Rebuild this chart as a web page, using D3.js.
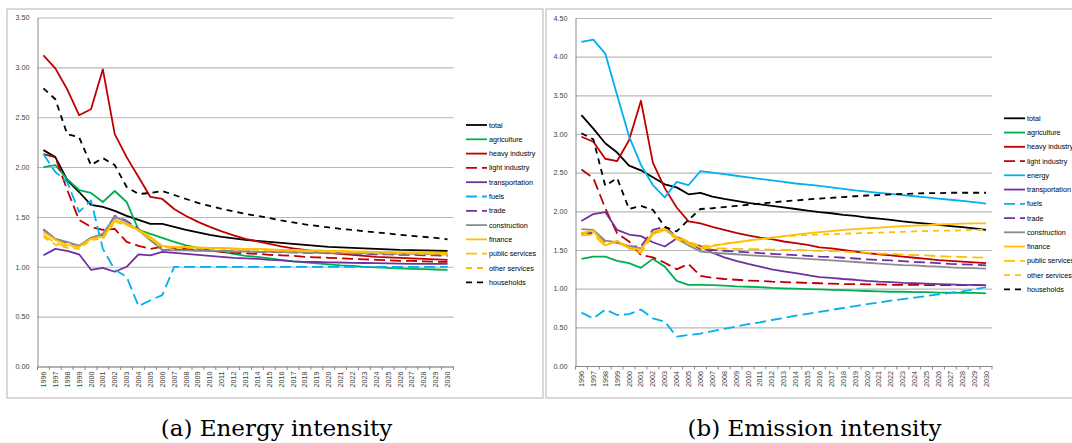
<!DOCTYPE html>
<html>
<head>
<meta charset="utf-8">
<script src="https://cdn.jsdelivr.net/npm/d3@7"></script>
<style>
  html, body { margin: 0; padding: 0; background: #fff; }
  svg { display: block; }
</style>
</head>
<body>
<svg id="chart" width="1072" height="443"></svg>
<script>
// Year categories shared by both panels
const years = ["1996","1997","1998","1999","2000","2001","2002","2003","2004","2005","2006",
  "2007","2008","2009","2010","2011","2012","2013","2014","2015","2016","2017",
  "2018","2019","2020","2021","2022","2023","2024","2025","2026","2027","2028","2029","2030"];

// Y tick labels
const energyTicks = ["0.00","0.50","1.00","1.50","2.00","2.50","3.00","3.50"];
const emissionTicks = ["0.00","0.50","1.00","1.50","2.00","2.50","3.00","3.50","4.00","4.50"];

// (a) Energy intensity by sector
const eTotal = [2.17,2.10,1.87,1.75,1.62,1.60,1.56,1.51,1.47,1.43,1.43, 1.40,1.37,1.345,1.32,1.30,1.285,1.27,1.26,1.25,1.24,1.23, 1.22,1.21,1.20,1.195,1.19,1.185,1.18,1.175,1.17,1.168,1.165,1.162,1.16];
const eAgriculture = [2.00,2.02,1.88,1.77,1.74,1.65,1.76,1.65,1.37,1.33,1.29, 1.25,1.215,1.19,1.17,1.15,1.13,1.11,1.10,1.085,1.07,1.055, 1.045,1.035,1.025,1.015,1.01,1.00,0.995,0.99,0.985,0.98,0.977,0.973,0.97];
const eHeavy = [3.12,2.99,2.78,2.52,2.58,2.98,2.33,2.10,1.90,1.70,1.68, 1.58,1.51,1.45,1.40,1.355,1.315,1.28,1.255,1.23,1.205,1.185, 1.17,1.155,1.14,1.13,1.12,1.11,1.10,1.095,1.09,1.085,1.08,1.075,1.07];
const eLight = [2.13,2.10,1.77,1.47,1.40,1.37,1.38,1.25,1.21,1.18,1.20, 1.19,1.18,1.17,1.16,1.15,1.14,1.135,1.13,1.12,1.115,1.11, 1.10,1.095,1.09,1.085,1.08,1.075,1.07,1.065,1.06,1.06,1.055,1.05,1.05];
const eTransport = [1.115,1.18,1.16,1.125,0.97,0.99,0.95,1.00,1.125,1.115,1.15, 1.14,1.13,1.12,1.11,1.10,1.09,1.085,1.08,1.07,1.065,1.055, 1.05,1.048,1.045,1.043,1.04,1.038,1.036,1.034,1.032,1.03,1.03,1.03,1.03];
const eFuels = [2.13,1.95,1.85,1.55,1.665,1.18,0.97,0.90,0.605,0.665,0.715, 1.00,1.00,1.00,1.00,1.00,1.00,1.00,1.00,1.00,1.00,1.00, 1.00,1.00,1.00,1.00,1.00,1.00,1.00,1.00,1.00,1.00,1.00,1.00,1.00];
const eTrade = [1.37,1.28,1.24,1.21,1.29,1.32,1.51,1.46,1.38,1.27,1.17, 1.17,1.17,1.165,1.16,1.16,1.155,1.155,1.15,1.15,1.145,1.145, 1.14,1.14,1.135,1.135,1.13,1.13,1.125,1.125,1.12,1.12,1.115,1.115,1.11];
const eConstruction = [1.38,1.28,1.25,1.21,1.29,1.33,1.50,1.45,1.365,1.265,1.17, 1.165,1.165,1.16,1.16,1.16,1.155,1.155,1.15,1.15,1.15,1.145, 1.145,1.14,1.14,1.14,1.135,1.135,1.135,1.13,1.13,1.13,1.13,1.125,1.125];
const eFinance = [1.35,1.27,1.22,1.20,1.28,1.30,1.47,1.43,1.37,1.30,1.21, 1.20,1.20,1.195,1.19,1.19,1.185,1.18,1.18,1.175,1.17,1.17, 1.165,1.165,1.16,1.16,1.155,1.155,1.15,1.15,1.145,1.145,1.145,1.14,1.14];
const ePublic = [1.32,1.24,1.20,1.20,1.28,1.29,1.46,1.42,1.37,1.28,1.20, 1.20,1.195,1.19,1.19,1.185,1.18,1.18,1.175,1.17,1.17,1.165, 1.16,1.16,1.155,1.155,1.15,1.15,1.145,1.145,1.14,1.14,1.135,1.135,1.13];
const eOther = [1.30,1.22,1.19,1.18,1.27,1.28,1.45,1.42,1.36,1.28,1.20, 1.19,1.19,1.185,1.18,1.18,1.175,1.17,1.17,1.165,1.16,1.16, 1.155,1.155,1.15,1.15,1.145,1.145,1.14,1.14,1.135,1.135,1.13,1.13,1.125];
const eHouseholds = [2.79,2.68,2.33,2.30,2.02,2.09,2.02,1.80,1.73,1.74,1.76, 1.72,1.68,1.64,1.61,1.58,1.555,1.53,1.51,1.49,1.465,1.445, 1.425,1.41,1.395,1.38,1.37,1.355,1.345,1.335,1.32,1.31,1.30,1.29,1.275];

// (b) Emission intensity by sector
const mTotal = [3.245,3.07,2.88,2.76,2.59,2.53,2.44,2.35,2.31,2.22,2.24, 2.19,2.16,2.135,2.11,2.09,2.07,2.05,2.03,2.01,1.99,1.975, 1.955,1.94,1.92,1.905,1.89,1.87,1.855,1.84,1.825,1.81,1.795,1.78,1.76];
const mAgriculture = [1.385,1.415,1.415,1.36,1.33,1.27,1.385,1.285,1.10,1.05,1.05, 1.045,1.04,1.03,1.025,1.02,1.01,1.005,1.00,0.995,0.99,0.985, 0.98,0.975,0.97,0.965,0.96,0.96,0.955,0.955,0.95,0.95,0.945,0.945,0.94];
const mHeavy = [2.965,2.90,2.68,2.65,2.92,3.43,2.63,2.30,2.05,1.87,1.845, 1.80,1.76,1.72,1.69,1.66,1.64,1.61,1.59,1.565,1.535,1.52, 1.50,1.48,1.46,1.445,1.43,1.415,1.40,1.385,1.37,1.36,1.35,1.34,1.33];
const mLight = [2.54,2.43,2.04,1.715,1.61,1.435,1.405,1.335,1.25,1.32,1.165, 1.14,1.125,1.115,1.105,1.10,1.09,1.085,1.08,1.075,1.07,1.065, 1.06,1.06,1.055,1.055,1.05,1.05,1.05,1.045,1.045,1.045,1.045,1.045,1.045];
const mEnergy = [4.19,4.22,4.04,3.50,2.97,2.60,2.34,2.18,2.38,2.34,2.52, 2.50,2.48,2.46,2.44,2.42,2.40,2.38,2.36,2.345,2.33,2.31, 2.29,2.27,2.255,2.24,2.225,2.21,2.195,2.18,2.165,2.15,2.135,2.12,2.10];
const mTransport = [1.875,1.965,1.99,1.76,1.70,1.68,1.60,1.545,1.65,1.595,1.55, 1.465,1.405,1.36,1.32,1.285,1.25,1.225,1.20,1.175,1.15,1.14, 1.125,1.115,1.10,1.09,1.085,1.075,1.07,1.065,1.06,1.055,1.05,1.05,1.045];
const mFuels = [0.69,0.615,0.73,0.66,0.67,0.73,0.615,0.575,0.38,0.40,0.42, 0.45,0.48,0.51,0.54,0.565,0.595,0.62,0.65,0.675,0.70,0.725, 0.75,0.775,0.80,0.82,0.845,0.865,0.885,0.905,0.925,0.945,0.965,0.99,1.02];
const mTrade = [1.715,1.72,1.61,1.595,1.545,1.545,1.76,1.80,1.67,1.60,1.51, 1.50,1.49,1.48,1.47,1.46,1.45,1.44,1.435,1.425,1.415,1.41, 1.40,1.39,1.38,1.37,1.365,1.355,1.345,1.34,1.33,1.32,1.315,1.31,1.30];
const mConstruction = [1.77,1.76,1.62,1.60,1.55,1.52,1.72,1.77,1.65,1.56,1.48, 1.465,1.455,1.445,1.435,1.425,1.415,1.405,1.395,1.385,1.375,1.365, 1.355,1.345,1.335,1.325,1.315,1.305,1.30,1.29,1.285,1.275,1.27,1.265,1.26];
const mFinance = [1.72,1.75,1.56,1.62,1.53,1.50,1.73,1.78,1.66,1.60,1.53, 1.55,1.58,1.60,1.62,1.64,1.66,1.68,1.70,1.715,1.73,1.745, 1.76,1.77,1.78,1.79,1.80,1.81,1.815,1.82,1.83,1.835,1.84,1.845,1.845];
const mPublic = [1.69,1.70,1.55,1.62,1.52,1.46,1.70,1.76,1.64,1.58,1.52, 1.52,1.52,1.515,1.51,1.51,1.505,1.50,1.50,1.495,1.49,1.485, 1.48,1.47,1.465,1.455,1.45,1.44,1.435,1.43,1.42,1.415,1.41,1.405,1.40];
const mOther = [1.70,1.74,1.58,1.60,1.52,1.48,1.70,1.77,1.67,1.61,1.55, 1.56,1.58,1.60,1.62,1.64,1.66,1.675,1.685,1.695,1.70,1.705, 1.71,1.715,1.72,1.725,1.73,1.735,1.74,1.745,1.75,1.75,1.755,1.76,1.76];
const mHouseholds = [3.01,2.93,2.33,2.43,2.03,2.07,2.02,1.80,1.74,1.89,2.03, 2.04,2.055,2.07,2.085,2.10,2.115,2.13,2.14,2.155,2.165,2.175, 2.185,2.195,2.205,2.21,2.22,2.225,2.23,2.235,2.235,2.24,2.24,2.24,2.24];

// Line styles per sector
const LONG = "11,5";
const SHORT = "6,5";
const styles = {
  "total":          { color: "#000000", dash: null },
  "agriculture":    { color: "#00b050", dash: null },
  "heavy industry": { color: "#c00000", dash: null },
  "light industry": { color: "#c00000", dash: LONG },
  "energy":         { color: "#00b0f0", dash: null },
  "transportation": { color: "#7030a0", dash: null },
  "fuels":          { color: "#00b0f0", dash: LONG },
  "trade":          { color: "#7030a0", dash: LONG },
  "construction":   { color: "#8c8c8c", dash: null },
  "finance":        { color: "#ffc000", dash: null },
  "public services":{ color: "#ffc000", dash: LONG },
  "other services": { color: "#ffc000", dash: SHORT },
  "households":     { color: "#000000", dash: SHORT }
};

const panels = [
  {
    frame: [7, 9, 536, 389],
    plot: { x0: 37.5, x1: 453.5, y0: 366.5, y1: 17.5 },
    ymax: 3.5, ticks: energyTicks,
    legend: { x: 466, y: 125, step: 14.3 },
    caption: "(a) Energy intensity", captionX: 276.5,
    series: [
      ["total", eTotal], ["agriculture", eAgriculture], ["heavy industry", eHeavy],
      ["light industry", eLight], ["transportation", eTransport], ["fuels", eFuels],
      ["trade", eTrade], ["construction", eConstruction], ["finance", eFinance],
      ["public services", ePublic], ["other services", eOther], ["households", eHouseholds]
    ]
  },
  {
    frame: [546, 9, 540, 389],
    plot: { x0: 575.5, x1: 992, y0: 366, y1: 18 },
    ymax: 4.5, ticks: emissionTicks,
    legend: { x: 1004, y: 118.3, step: 14.25 },
    caption: "(b) Emission intensity", captionX: 814.5,
    series: [
      ["total", mTotal], ["agriculture", mAgriculture], ["heavy industry", mHeavy],
      ["light industry", mLight], ["energy", mEnergy], ["transportation", mTransport],
      ["fuels", mFuels], ["trade", mTrade], ["construction", mConstruction],
      ["finance", mFinance], ["public services", mPublic], ["other services", mOther],
      ["households", mHouseholds]
    ]
  }
];

const svg = d3.select("#chart");
const tickFont = "'Liberation Sans', Arial, sans-serif";

panels.forEach(p => {
  const g = svg.append("g");

  // outer frame
  g.append("rect")
    .attr("x", p.frame[0]).attr("y", p.frame[1])
    .attr("width", p.frame[2]).attr("height", p.frame[3])
    .attr("fill", "#fff").attr("stroke", "#c4c4c4").attr("stroke-width", 1.3);

  const x = d3.scaleBand().domain(years).range([p.plot.x0, p.plot.x1]).padding(0);
  const y = d3.scaleLinear().domain([0, p.ymax]).range([p.plot.y0, p.plot.y1]);
  const cx = d => x(d) + x.bandwidth() / 2;

  // horizontal gridlines
  const grid = g.append("g")
    .attr("transform", `translate(${p.plot.x0},0)`)
    .call(d3.axisLeft(y).tickValues(p.ticks.map(Number)).tickSize(-(p.plot.x1 - p.plot.x0)).tickFormat(""));
  grid.select(".domain").remove();
  grid.selectAll("line").attr("stroke", "#b8b8b8").attr("stroke-width", 1.1);

  // y axis with labels
  const yAxis = g.append("g")
    .attr("transform", `translate(${p.plot.x0},0)`)
    .call(d3.axisLeft(y).tickValues(p.ticks.map(Number)).tickSize(0).tickPadding(8)
      .tickFormat((d, i) => p.ticks[i]));
  yAxis.select(".domain").attr("stroke", "#8a8a8a").attr("stroke-width", 1);
  yAxis.selectAll("text").attr("font-family", tickFont).attr("font-size", 7.2).attr("fill", "#404040");

  // x axis with rotated year labels
  const xAxis = g.append("g")
    .attr("transform", `translate(0,${p.plot.y0})`)
    .call(d3.axisBottom(x).tickSize(0).tickPadding(0));
  xAxis.select(".domain").attr("stroke", "#8a8a8a").attr("stroke-width", 1);
  xAxis.selectAll("text")
    .attr("font-family", tickFont).attr("font-size", 7.2).attr("fill", "#404040")
    .attr("text-anchor", "end")
    .attr("transform", "rotate(-90)")
    .attr("x", -5).attr("y", 0).attr("dy", "0.35em");

  // tick marks at category boundaries
  g.append("g").selectAll("line")
    .data(years.concat(["end"]))
    .join("line")
    .attr("x1", (d, i) => i < years.length ? x(d) : p.plot.x1)
    .attr("x2", (d, i) => i < years.length ? x(d) : p.plot.x1)
    .attr("y1", p.plot.y0).attr("y2", p.plot.y0 + 3.5)
    .attr("stroke", "#8a8a8a").attr("stroke-width", 1);

  // series lines
  const line = d3.line().x((d, i) => cx(years[i])).y(d => y(d));
  g.append("g").selectAll("path")
    .data(p.series)
    .join("path")
    .attr("d", d => line(d[1]))
    .attr("fill", "none")
    .attr("stroke", d => styles[d[0]].color)
    .attr("stroke-width", 1.8)
    .attr("stroke-linejoin", "round")
    .attr("stroke-dasharray", d => styles[d[0]].dash);

  // legend
  const lg = g.append("g").selectAll("g")
    .data(p.series.map(s => s[0]))
    .join("g")
    .attr("transform", (d, i) => `translate(${p.legend.x},${p.legend.y + i * p.legend.step})`);
  lg.append("line")
    .attr("x1", 0).attr("x2", 21).attr("y1", 0).attr("y2", 0)
    .attr("stroke", d => styles[d].color).attr("stroke-width", 1.8)
    .attr("stroke-dasharray", d => styles[d].dash);
  lg.append("text")
    .attr("x", 23).attr("y", 0).attr("dy", "0.35em")
    .attr("font-family", tickFont).attr("font-size", 7.2).attr("fill", "#000")
    .text(d => d);

  // caption
  svg.append("text")
    .attr("x", p.captionX).attr("y", 436)
    .attr("text-anchor", "middle")
    .attr("font-family", "'DejaVu Serif', serif").attr("font-size", 23)
    .attr("fill", "#000")
    .text(p.caption);
});
</script>
</body>
</html>
